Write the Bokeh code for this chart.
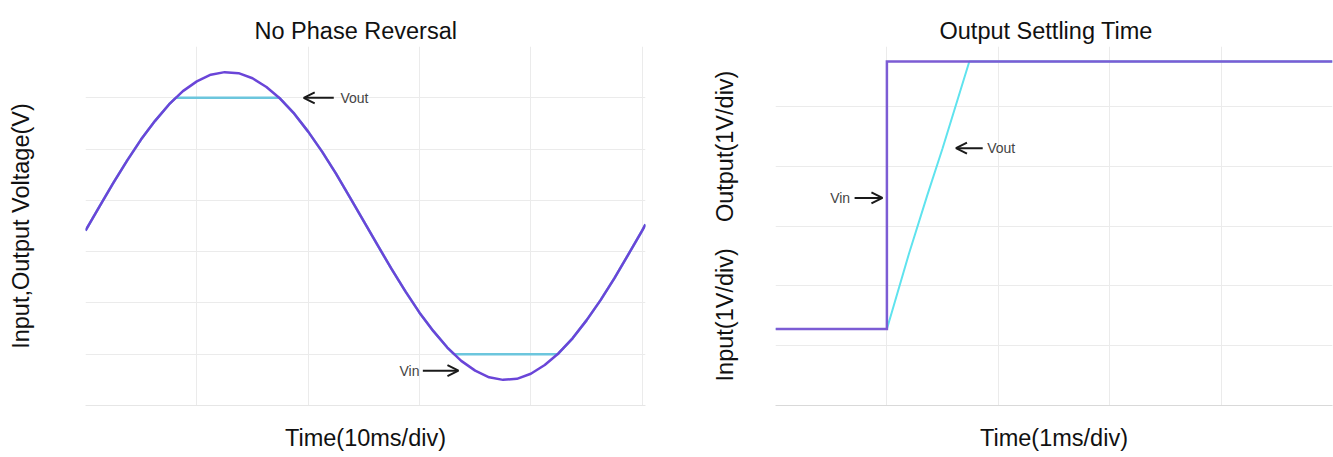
from bokeh.plotting import figure
from bokeh.models import Range1d, FixedTicker, Label, Arrow, OpenHead, LinearAxis
from bokeh.layouts import row
from bokeh.embed import file_html
from bokeh.resources import INLINE

# ---------------- data (in oscilloscope divisions) ----------------
# Left chart: No Phase Reversal
sine_t = [0.0, 0.125, 0.25, 0.375, 0.5, 0.625, 0.75, 0.875, 1.0, 1.125, 1.25, 1.375,
          1.5, 1.625, 1.75, 1.875, 2.0, 2.125, 2.25, 2.375, 2.5, 2.625, 2.75, 2.875,
          3.0, 3.125, 3.25, 3.375, 3.5, 3.625, 3.75, 3.875, 4.0, 4.125, 4.25, 4.375,
          4.5, 4.625, 4.75, 4.875, 5.0, 5.03]
sine_vin = [3.41, 3.88, 4.34, 4.78, 5.19, 5.55, 5.87, 6.13, 6.32, 6.45, 6.50, 6.48,
            6.38, 6.21, 5.98, 5.69, 5.34, 4.95, 4.52, 4.06, 3.59, 3.12, 2.66, 2.22,
            1.81, 1.45, 1.13, 0.87, 0.68, 0.55, 0.50, 0.52, 0.62, 0.79, 1.02, 1.31,
            1.66, 2.05, 2.48, 2.94, 3.41, 3.53]
clip_t = [0.0, 0.125, 0.25, 0.375, 0.5, 0.625, 0.75, 0.81, 1.74, 1.75, 1.875, 2.0,
          2.125, 2.25, 2.375, 2.5, 2.625, 2.75, 2.875, 3.0, 3.125, 3.25, 3.31, 4.24,
          4.25, 4.375, 4.5, 4.625, 4.75, 4.875, 5.0, 5.03]
clip_vout = [3.41, 3.88, 4.34, 4.78, 5.19, 5.55, 5.87, 6.0, 6.0, 5.98, 5.69, 5.34,
             4.95, 4.52, 4.06, 3.59, 3.12, 2.66, 2.22, 1.81, 1.45, 1.13, 1.0, 1.0,
             1.02, 1.31, 1.66, 2.05, 2.48, 2.94, 3.41, 3.53]
left_xgrid = [0, 1, 2, 3, 4, 5]
left_ygrid = [0, 1, 2, 3, 4, 5, 6, 7]

# Right chart: Output Settling Time
step_t = [0.0, 1.0, 1.0, 5.0]
step_vin = [1.28, 1.28, 5.75, 5.75]
settle_t = [0.0, 1.0, 1.2, 1.36, 1.5, 1.74, 5.0]
settle_vout = [1.28, 1.28, 2.55, 3.5, 4.3, 5.75, 5.75]
right_xgrid = [0, 1, 2, 3, 4, 5]
right_ygrid = [0, 1, 2, 3, 4, 5, 6]

# ---------------- styling ----------------
FONT = "Liberation Sans"
GRID = "#ebebeb"
NBSP = "\u00a0"


def base_fig(title, width, x_end, y_end, xgrid, ygrid, xlabel, ylabel,
             mb_left, mb_right, mb_top, mb_bottom, ylab_standoff, title_offset, gap):
    p = figure(width=width, height=457, output_backend="svg", toolbar_location=None,
               x_range=Range1d(0, x_end), y_range=Range1d(0, y_end),
               min_border_left=mb_left, min_border_right=mb_right,
               min_border_top=mb_top, min_border_bottom=mb_bottom)
    # blank spacer axis between frame and title (lifts the title)
    spacer = LinearAxis(ticker=FixedTicker(ticks=[]), axis_line_color=None,
                        major_tick_line_color=None, minor_tick_line_color=None,
                        major_tick_in=0, major_tick_out=gap,
                        major_label_standoff=0, axis_label_standoff=0)
    p.add_layout(spacer, "above")
    p.title.text = title
    p.title.align = "left"
    p.title.offset = title_offset
    p.title.standoff = 5
    p.title.text_font = FONT
    p.title.text_font_size = "23.5px"
    p.title.text_font_style = "normal"
    p.title.text_color = "#111111"
    p.outline_line_color = None
    p.background_fill_color = "white"
    p.border_fill_color = "white"
    # axes carry only the labels; the grids get their own tickers
    p.xaxis.ticker = FixedTicker(ticks=[])
    p.yaxis.ticker = FixedTicker(ticks=[])
    p.xgrid.ticker = FixedTicker(ticks=xgrid)
    p.ygrid.ticker = FixedTicker(ticks=ygrid)
    for ax in (p.below[0], p.left[0]):
        ax.major_label_standoff = 0
        ax.major_tick_line_color = None
        ax.minor_tick_line_color = None
        ax.major_tick_out = 0
        ax.axis_label_text_font = FONT
        ax.axis_label_text_font_size = "23.5px"
        ax.axis_label_text_font_style = "normal"
        ax.axis_label_text_color = "#111111"
    p.below[0].axis_label = xlabel
    p.left[0].axis_label = ylabel
    p.below[0].axis_label_standoff = 19
    p.left[0].axis_label_standoff = ylab_standoff
    p.left[0].axis_line_color = None
    p.xgrid.grid_line_color = GRID
    p.ygrid.grid_line_color = GRID
    return p


def note(p, text, x, y, align):
    p.add_layout(Label(x=x, y=y, text=text, text_font=FONT, text_font_size="14px",
                       text_color="#444444", text_align=align, text_baseline="middle"))


def arrow(p, x0, x1, y):
    p.add_layout(Arrow(x_start=x0, y_start=y, x_end=x1, y_end=y,
                       line_color="#1a1a1a", line_width=2,
                       end=OpenHead(size=11, line_width=2, line_color="#1a1a1a")))


# ---------------- left chart ----------------
p1 = base_fig("No Phase Reversal", 708, 5.03, 7, left_xgrid, left_ygrid,
              "Time(10ms/div)", "Input,Output Voltage(V)",
              85, 63, 46, 51, 52, 169, 13)
p1.below[0].axis_line_color = "#e6e6e6"
p1.line(clip_t, clip_vout, line_color="#6cc6dd", line_width=2.5)
p1.line(sine_t, sine_vin, line_color="#6a45d8", line_width=2.5, line_join="round")
arrow(p1, 2.23, 1.96, 6.0)
note(p1, "Vout", 2.29, 6.0, "left")
arrow(p1, 3.03, 3.35, 0.68)
note(p1, "Vin", 3.0, 0.68, "right")

# ---------------- right chart ----------------
p2 = base_fig("Output Settling Time", 625, 5, 6, right_xgrid, right_ygrid,
              "Time(1ms/div)", "Input(1V/div)" + NBSP * 4 + "Output(1V/div)",
              64, 1, 45, 52, 38, 164, 12)
p2.below[0].axis_line_color = "#d9d9d9"
p2.line(settle_t, settle_vout, line_color="#5fe3ee", line_width=2)
p2.line(step_t, step_vin, line_color="#7c5cd4", line_width=2.5, line_join="miter")
arrow(p2, 0.71, 0.96, 3.47)
note(p2, "Vin", 0.67, 3.47, "right")
arrow(p2, 1.86, 1.62, 4.3)
note(p2, "Vout", 1.9, 4.3, "left")

layout = row(p1, p2)
open("out.html", "w").write(file_html(layout, INLINE))
